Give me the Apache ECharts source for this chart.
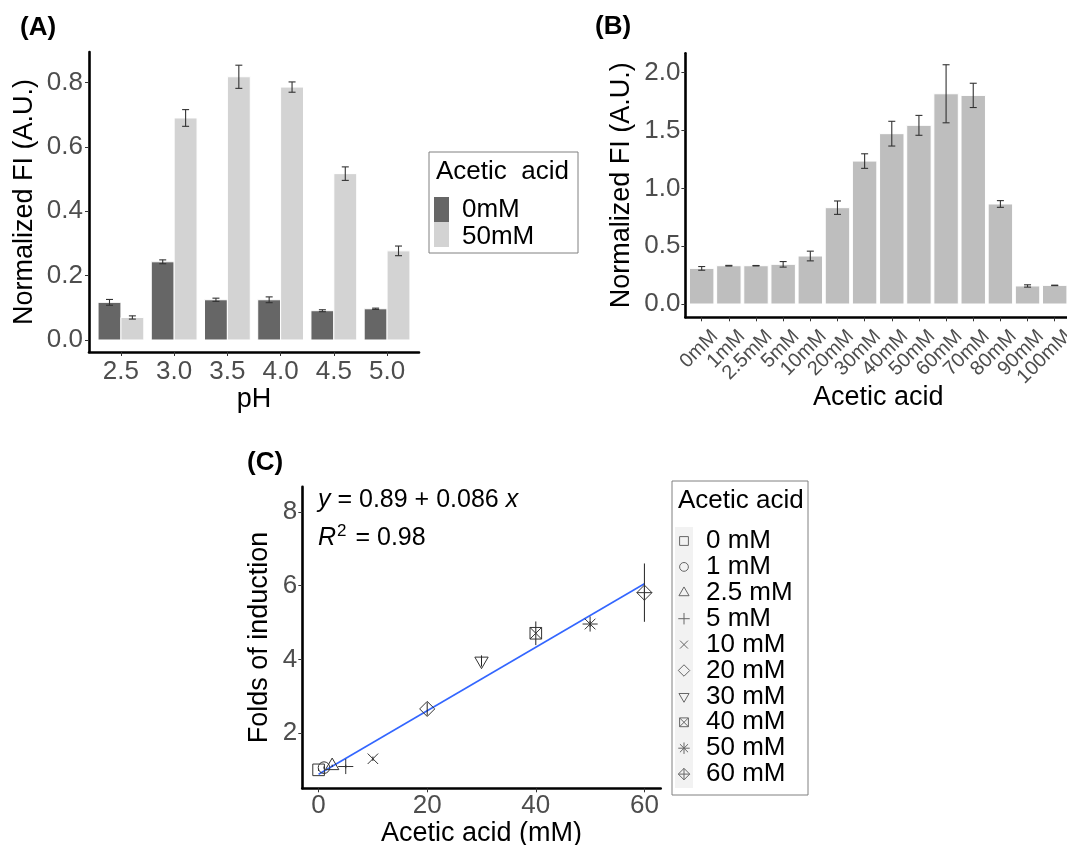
<!DOCTYPE html>
<html>
<head>
<meta charset="utf-8">
<script src="https://cdn.jsdelivr.net/npm/echarts@6/dist/echarts.min.js"></script>
<style>
html,body{margin:0;padding:0;background:#fff;}
#c{width:1067px;height:845px;}
</style>
</head>
<body>
<div id="c"></div>
<script>
// ---------------- DATA ----------------
// Panel A
const phValues = [2.5, 3.0, 3.5, 4.0, 4.5, 5.0];
const phTicks = [2.5, 3.0, 3.5, 4.0, 4.5, 5.0];
const groupNames = ['0mM', '50mM'];
const acid0Values = [0.117, 0.243, 0.125, 0.125, 0.091, 0.097];
const acid0Errors = [0.009, 0.006, 0.005, 0.009, 0.003, 0.002];
const acid50Values = [0.070, 0.690, 0.818, 0.786, 0.517, 0.277];
const acid50Errors = [0.005, 0.026, 0.036, 0.016, 0.021, 0.015];
const yTicksA = [0, 0.2, 0.4, 0.6, 0.8];

// Panel B
const concLabels = ['0mM','1mM','2.5mM','5mM','10mM','20mM','30mM','40mM','50mM','60mM','70mM','80mM','90mM','100mM'];
const concValues = [0.308, 0.331, 0.331, 0.343, 0.415, 0.833, 1.236, 1.473, 1.545, 1.818, 1.804, 0.865, 0.156, 0.161];
const concErrors = [0.016, 0.003, 0.002, 0.024, 0.042, 0.058, 0.063, 0.107, 0.086, 0.251, 0.105, 0.029, 0.010, 0.002];
const yTicksB = [0, 0.5, 1.0, 1.5, 2.0];

// Panel C
const inductionConc = [0, 1, 2.5, 5, 10, 20, 30, 40, 50, 60];
const inductionLabels = ['0 mM','1 mM','2.5 mM','5 mM','10 mM','20 mM','30 mM','40 mM','50 mM','60 mM'];
const inductionValues = [1.01, 1.07, 1.12, 1.10, 1.31, 2.66, 3.96, 4.71, 4.96, 5.81];
const inductionErrors = [0.03, 0.03, 0.03, 0.05, 0.06, 0.18, 0.15, 0.32, 0.08, 0.79];
const inductionShapes = [0, 1, 2, 3, 4, 5, 6, 7, 8, 9];
const fitLine = [[0, 0.89], [60, 6.05]];
const xTicksC = [0, 20, 40, 60];
const yTicksC = [2, 4, 6, 8];

// ---------------- STYLE ----------------
const FF = "'Liberation Sans', Arial, Helvetica, sans-serif";
const TICKTXT = '#4D4D4D';
const DARK = '#666666', LIGHT = '#D3D3D3', BGREY = '#BEBEBE';
const ERR = '#333333';
const Y_MIN_B = -0.115;

function axisBase(extra) {
  return Object.assign({
    type: 'value',
    splitLine: {show: false},
    axisLine: {show: true, onZero: false, lineStyle: {color: '#000', width: 2.6}},
    nameTextStyle: {fontSize: 27, color: '#000', fontFamily: FF}
  }, extra);
}

function barRender(offset, half, unit, fill) {
  return function (params, api) {
    const x = api.value(0), v = api.value(1), e = api.value(2);
    const c = x + offset * unit;
    const p1 = api.coord([c - half * unit, v]);
    const p2 = api.coord([c + half * unit, 0]);
    const t = api.coord([c, v + e]);
    const b = api.coord([c, v - e]);
    const cap = 3.5;
    const es = {stroke: ERR, lineWidth: 1.1};
    return {type: 'group', children: [
      {type: 'rect', shape: {x: p1[0], y: p1[1], width: p2[0] - p1[0], height: p2[1] - p1[1]},
        style: {fill: fill, stroke: '#ffffff', lineWidth: 1}},
      {type: 'line', shape: {x1: t[0], y1: t[1], x2: b[0], y2: b[1]}, style: es},
      {type: 'line', shape: {x1: t[0] - cap, y1: t[1], x2: t[0] + cap, y2: t[1]}, style: es},
      {type: 'line', shape: {x1: b[0] - cap, y1: b[1], x2: b[0] + cap, y2: b[1]}, style: es}
    ]};
  };
}

function shapeEls(k, cx, cy, s, color, lw) {
  const st = {fill: 'none', stroke: color, lineWidth: lw};
  const L = (x1, y1, x2, y2) => ({type: 'line', shape: {x1, y1, x2, y2}, style: st});
  const plus = (a) => [L(cx - a, cy, cx + a, cy), L(cx, cy - a, cx, cy + a)];
  const cross = (a) => [L(cx - a, cy - a, cx + a, cy + a), L(cx - a, cy + a, cx + a, cy - a)];
  const diamond = (a) => ({type: 'polygon', shape: {points: [[cx, cy - a], [cx + a, cy], [cx, cy + a], [cx - a, cy]]}, style: st});
  const square = (a) => ({type: 'rect', shape: {x: cx - a, y: cy - a, width: 2 * a, height: 2 * a}, style: st});
  switch (k) {
    case 0: return [square(s)];
    case 1: return [{type: 'circle', shape: {cx, cy, r: s}, style: st}];
    case 2: return [{type: 'polygon', shape: {points: [[cx, cy - 1.33 * s], [cx + 1.15 * s, cy + 0.66 * s], [cx - 1.15 * s, cy + 0.66 * s]]}, style: st}];
    case 3: return plus(1.3 * s);
    case 4: return cross(0.9 * s);
    case 5: return [diamond(1.3 * s)];
    case 6: return [{type: 'polygon', shape: {points: [[cx, cy + 1.33 * s], [cx + 1.15 * s, cy - 0.66 * s], [cx - 1.15 * s, cy - 0.66 * s]]}, style: st}];
    case 7: return [square(s)].concat(cross(s));
    case 8: return plus(1.3 * s).concat(cross(0.92 * s));
    case 9: return [diamond(1.3 * s)].concat(plus(1.3 * s));
  }
  return [];
}

// ---------------- GRAPHIC (labels, legends, annotation) ----------------
function txt(text, x, y, size, opts) {
  return {type: 'text', z: 100, style: Object.assign({
    text: text, x: x, y: y, fontSize: size, fontFamily: FF, fill: '#000',
    align: 'left', textAlign: 'left', verticalAlign: 'middle', textVerticalAlign: 'middle'
  }, opts || {})};
}

const graphics = [];
graphics.push(txt('(A)', 20, 28, 26, {fontWeight: 'bold'}));
graphics.push(txt('(B)', 595, 27, 26, {fontWeight: 'bold'}));
graphics.push(txt('(C)', 247, 463, 26, {fontWeight: 'bold'}));

// Legend A
graphics.push({type: 'rect', z: 90, shape: {x: 429, y: 152, width: 149, height: 101}, style: {fill: '#fff', stroke: '#808080', lineWidth: 1}});
graphics.push(txt('Acetic  acid', 436, 172, 26));
[DARK, LIGHT].forEach((col, i) => {
  graphics.push({type: 'rect', z: 95, shape: {x: 434, y: 197 + 25 * i, width: 15, height: 25}, style: {fill: col}});
  graphics.push(txt(groupNames[i], 462, 210 + 27 * i, 26));
});

// Legend C
graphics.push({type: 'rect', z: 90, shape: {x: 672, y: 481, width: 136, height: 314}, style: {fill: '#fff', stroke: '#808080', lineWidth: 1}});
graphics.push(txt('Acetic acid', 678, 501, 26));
graphics.push({type: 'rect', z: 92, shape: {x: 675, y: 527, width: 18, height: 261}, style: {fill: '#F2F2F2'}});
inductionLabels.forEach((lab, i) => {
  const yy = 541 + 25.9 * i;
  shapeEls(inductionShapes[i], 684, yy, 4.4, '#666666', 1).forEach(el => { el.z = 95; graphics.push(el); });
  graphics.push(txt(lab, 706, yy, 26));
});

// Annotation in C
graphics.push(txt('{i|y}{n| = 0.89 + 0.086 }{i|x}', 318, 500, 25, {
  rich: {i: {fontStyle: 'italic', fontSize: 25, fontFamily: FF, fill: '#000'}, n: {fontSize: 25, fontFamily: FF, fill: '#000'}}
}));
graphics.push(txt('{i|R}{s|2}{n| = 0.98}', 318, 537, 25, {
  rich: {
    i: {fontStyle: 'italic', fontSize: 25, fontFamily: FF, fill: '#000', verticalAlign: 'bottom', lineHeight: 28},
    s: {fontSize: 17, fontFamily: FF, fill: '#000', verticalAlign: 'top', lineHeight: 17, padding: [0, 2, 8, 1]},
    n: {fontSize: 25, fontFamily: FF, fill: '#000', verticalAlign: 'bottom', lineHeight: 28}
  }
}));

// ---------------- OPTION ----------------
const option = {
  animation: false,
  backgroundColor: '#ffffff',
  textStyle: {fontFamily: FF},
  grid: [
    {left: 89, top: 52, width: 330, height: 300, containLabel: false, outerBoundsMode: 'none'},
    {left: 685.4, top: 53.3, width: 385.6, height: 264, containLabel: false, outerBoundsMode: 'none'},
    {left: 302.3, top: 486.7, width: 358.4, height: 301.6, containLabel: false, outerBoundsMode: 'none'}
  ],
  xAxis: [
    axisBase({gridIndex: 0, min: 2.2, max: 5.3, position: 'bottom',
      name: 'pH', nameLocation: 'middle', nameGap: 31,
      axisTick: {show: true, customValues: phTicks, length: 4, lineStyle: {color: '#333', width: 1}},
      axisLabel: {customValues: phTicks, formatter: v => v.toFixed(1), fontSize: 26, color: TICKTXT, fontFamily: FF, margin: 7,
        hideOverlap: false, showMinLabel: true, showMaxLabel: true}
    }),
    axisBase({gridIndex: 1, min: -0.6, max: 13.6, position: 'bottom',
      name: 'Acetic acid', nameLocation: 'middle', nameGap: 67,
      axisTick: {show: true, customValues: concLabels.map((_, i) => i), length: 4, lineStyle: {color: '#333', width: 1}},
      axisLabel: {show: false}
    }),
    axisBase({gridIndex: 2, min: -3, max: 63, position: 'bottom',
      name: 'Acetic acid (mM)', nameLocation: 'middle', nameGap: 31,
      axisTick: {show: true, customValues: xTicksC, length: 4, lineStyle: {color: '#333', width: 1}},
      axisLabel: {customValues: xTicksC, formatter: v => String(v), fontSize: 26, color: TICKTXT, fontFamily: FF, margin: 5,
        hideOverlap: false, showMinLabel: true, showMaxLabel: true}
    })
  ],
  yAxis: [
    axisBase({gridIndex: 0, min: -0.0373, max: 0.895, position: 'left',
      name: 'Normalized FI (A.U.)', nameLocation: 'middle', nameGap: 51,
      axisTick: {show: true, customValues: yTicksA, length: 4, lineStyle: {color: '#333', width: 1}},
      axisLabel: {customValues: yTicksA, formatter: v => v.toFixed(1), fontSize: 26, color: TICKTXT, fontFamily: FF, margin: 6,
        hideOverlap: false, showMinLabel: true, showMaxLabel: true}
    }),
    axisBase({gridIndex: 1, min: Y_MIN_B, max: 2.168, position: 'left',
      name: 'Normalized FI (A.U.)', nameLocation: 'middle', nameGap: 50,
      axisTick: {show: true, customValues: yTicksB, length: 4, lineStyle: {color: '#333', width: 1}},
      axisLabel: {customValues: yTicksB, formatter: v => v.toFixed(1), fontSize: 26, color: TICKTXT, fontFamily: FF, margin: 5,
        hideOverlap: false, showMinLabel: true, showMaxLabel: true}
    }),
    axisBase({gridIndex: 2, min: 0.51, max: 8.68, position: 'left',
      name: 'Folds of induction', nameLocation: 'middle', nameGap: 29,
      axisTick: {show: true, customValues: yTicksC, length: 4, lineStyle: {color: '#333', width: 1}},
      axisLabel: {customValues: yTicksC, formatter: v => String(v), fontSize: 26, color: TICKTXT, fontFamily: FF, margin: 5,
        hideOverlap: false, showMinLabel: true, showMaxLabel: true}
    })
  ],
  series: [
    {type: 'custom', name: groupNames[0], xAxisIndex: 0, yAxisIndex: 0, clip: false,
      encode: {x: 0, y: 1},
      data: phValues.map((x, i) => [x, acid0Values[i], acid0Errors[i]]),
      renderItem: barRender(-0.215, 0.215, 0.5, DARK)},
    {type: 'custom', name: groupNames[1], xAxisIndex: 0, yAxisIndex: 0, clip: false,
      encode: {x: 0, y: 1},
      data: phValues.map((x, i) => [x, acid50Values[i], acid50Errors[i]]),
      renderItem: barRender(0.215, 0.215, 0.5, LIGHT)},
    {type: 'custom', name: 'B', xAxisIndex: 1, yAxisIndex: 1, clip: false,
      encode: {x: 0, y: 1},
      data: concLabels.map((_, i) => [i, concValues[i], concErrors[i]]),
      renderItem: barRender(0, 0.45, 1, BGREY)},
    // rotated category labels for panel B (hjust = 1, vjust = 1, angle = 45)
    {type: 'custom', name: 'B labels', xAxisIndex: 1, yAxisIndex: 1, clip: false, silent: true, z: 6,
      encode: {x: 0, y: 1},
      data: concLabels.map((_, i) => [i, 0]),
      renderItem: function (params, api) {
        const p = api.coord([api.value(0), Y_MIN_B]);
        return {type: 'text', x: p[0] + 6, y: p[1] + 9, rotation: Math.PI / 4,
          style: {text: concLabels[params.dataIndex], fontSize: 20, fontFamily: FF, fill: TICKTXT,
            align: 'right', verticalAlign: 'top', textAlign: 'right', textVerticalAlign: 'top'}};
      }},
    {type: 'line', xAxisIndex: 2, yAxisIndex: 2, data: fitLine, symbol: 'none',
      lineStyle: {color: '#3366FF', width: 1.6}, z: 3, silent: true},
    {type: 'custom', name: 'C', xAxisIndex: 2, yAxisIndex: 2, clip: false, z: 4,
      encode: {x: 0, y: 1},
      data: inductionConc.map((x, i) => [x, inductionValues[i], inductionErrors[i], inductionShapes[i]]),
      renderItem: function (params, api) {
        const x = api.value(0), y = api.value(1), e = api.value(2), k = api.value(3);
        const p = api.coord([x, y]);
        const t = api.coord([x, y + e]);
        const b = api.coord([x, y - e]);
        return {type: 'group', children: [
          {type: 'line', shape: {x1: t[0], y1: t[1], x2: b[0], y2: b[1]}, style: {stroke: '#222', lineWidth: 1}}
        ].concat(shapeEls(k, p[0], p[1], 5.8, '#333333', 1))};
      }}
  ],
  graphic: {elements: graphics}
};

const chart = echarts.init(document.getElementById('c'), null, {renderer: 'canvas', width: 1067, height: 845});
chart.setOption(option);
</script>
</body>
</html>
